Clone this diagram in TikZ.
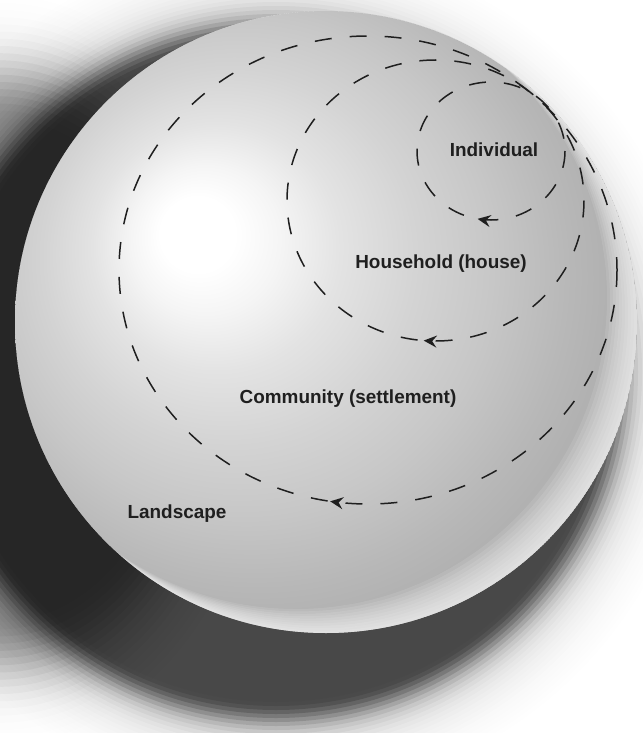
\documentclass[tikz,border=0pt]{standalone}
\usepackage{fontspec}
\setmainfont{Liberation Sans}
\usetikzlibrary{arrows.meta,decorations.markings}
\pgfdeclareradialshading{spheresh}{\pgfpoint{-11bp}{7.5bp}}{color(0bp)=(white); color(3bp)=(white); color(6bp)=(black!4); color(10bp)=(black!11); color(15bp)=(black!17); color(20bp)=(black!22); color(25bp)=(black!28); color(30bp)=(black!33); color(36bp)=(black!39); color(50bp)=(black!42)}
\tikzset{
  ring/.style={draw=black!88, line width=1.5bp, dash pattern=on 17bp off 18bp},
  dirmark/.style={postaction={decorate, decoration={markings, mark=at position #1 with {\arrow{Stealth[length=13bp,width=12bp,inset=4.5bp]}}}}},
  lbl/.style={font=\bfseries\fontsize{19}{22}\selectfont, text=black!88, inner sep=0pt}
}
\begin{document}
\begin{tikzpicture}[x=1bp,y=-1bp]
\useasboundingbox (0,0) rectangle (643,733);
\clip (0,0) rectangle (643,733);
\fill[white] (0,0) rectangle (643,733);
% soft drop shadow (stacked translucent discs)
\foreach \s in {120,116,...,0} {
  \pgfmathsetmacro\din{(\s<2) ? 0.7 : 0.53*exp(-(\s-2)*(\s-2)/484)+0.17*exp(-(\s-2)*(\s-2)/3025)}
  \pgfmathsetmacro\dout{0.53*exp(-(\s+2)*(\s+2)/484)+0.17*exp(-(\s+2)*(\s+2)/3025)}
  \pgfmathsetmacro\al{1-(1-\din)/(1-\dout)}
  \fill[black, fill opacity=\al] (276,372) circle [radius={330+\s}];
}
\foreach \r in {110,108,...,70} {
  \pgfmathsetmacro\din{(\r<71) ? 0.38 : 0.38*exp(-(\r-71)*(\r-71)/256)}
  \pgfmathsetmacro\dout{0.38*exp(-(\r-69)*(\r-69)/256)}
  \pgfmathsetmacro\al{1-(1-\din)/(1-\dout)}
  \fill[black, fill opacity=\al] (0,370) ellipse [x radius={2.6*\r}, y radius={3.6*\r}];
}
% sphere
\shade[shading=spheresh] (326,322) circle [radius=311];
\begin{scope}
  \clip (326,322) circle [radius=311];
  \foreach \d in {3,6,...,30}
    \fill[white, fill opacity=0.1, even odd rule] (326,322) circle [radius=311] (326-\d,322-0.8*\d) circle [radius=311];
\end{scope}
% rings
\draw[ring, dirmark=0.275] (368,270) ellipse [x radius=249, y radius=234];
\draw[ring, dirmark=0.263] (435.5,200.5) ellipse [x radius=148.5, y radius=140.5];
\draw[ring, dirmark=0.28] (491,151) ellipse [x radius=74, y radius=69];
% labels
\node[lbl] (ind) at (494,150) {Individual};
\node[lbl] (hh) at (441,264) {Household (house)};
\node[lbl] (com) at (348,399) {Community (settlement)};
\node[lbl] (land) at (177,514) {Landscape};
\end{tikzpicture}
\end{document}
